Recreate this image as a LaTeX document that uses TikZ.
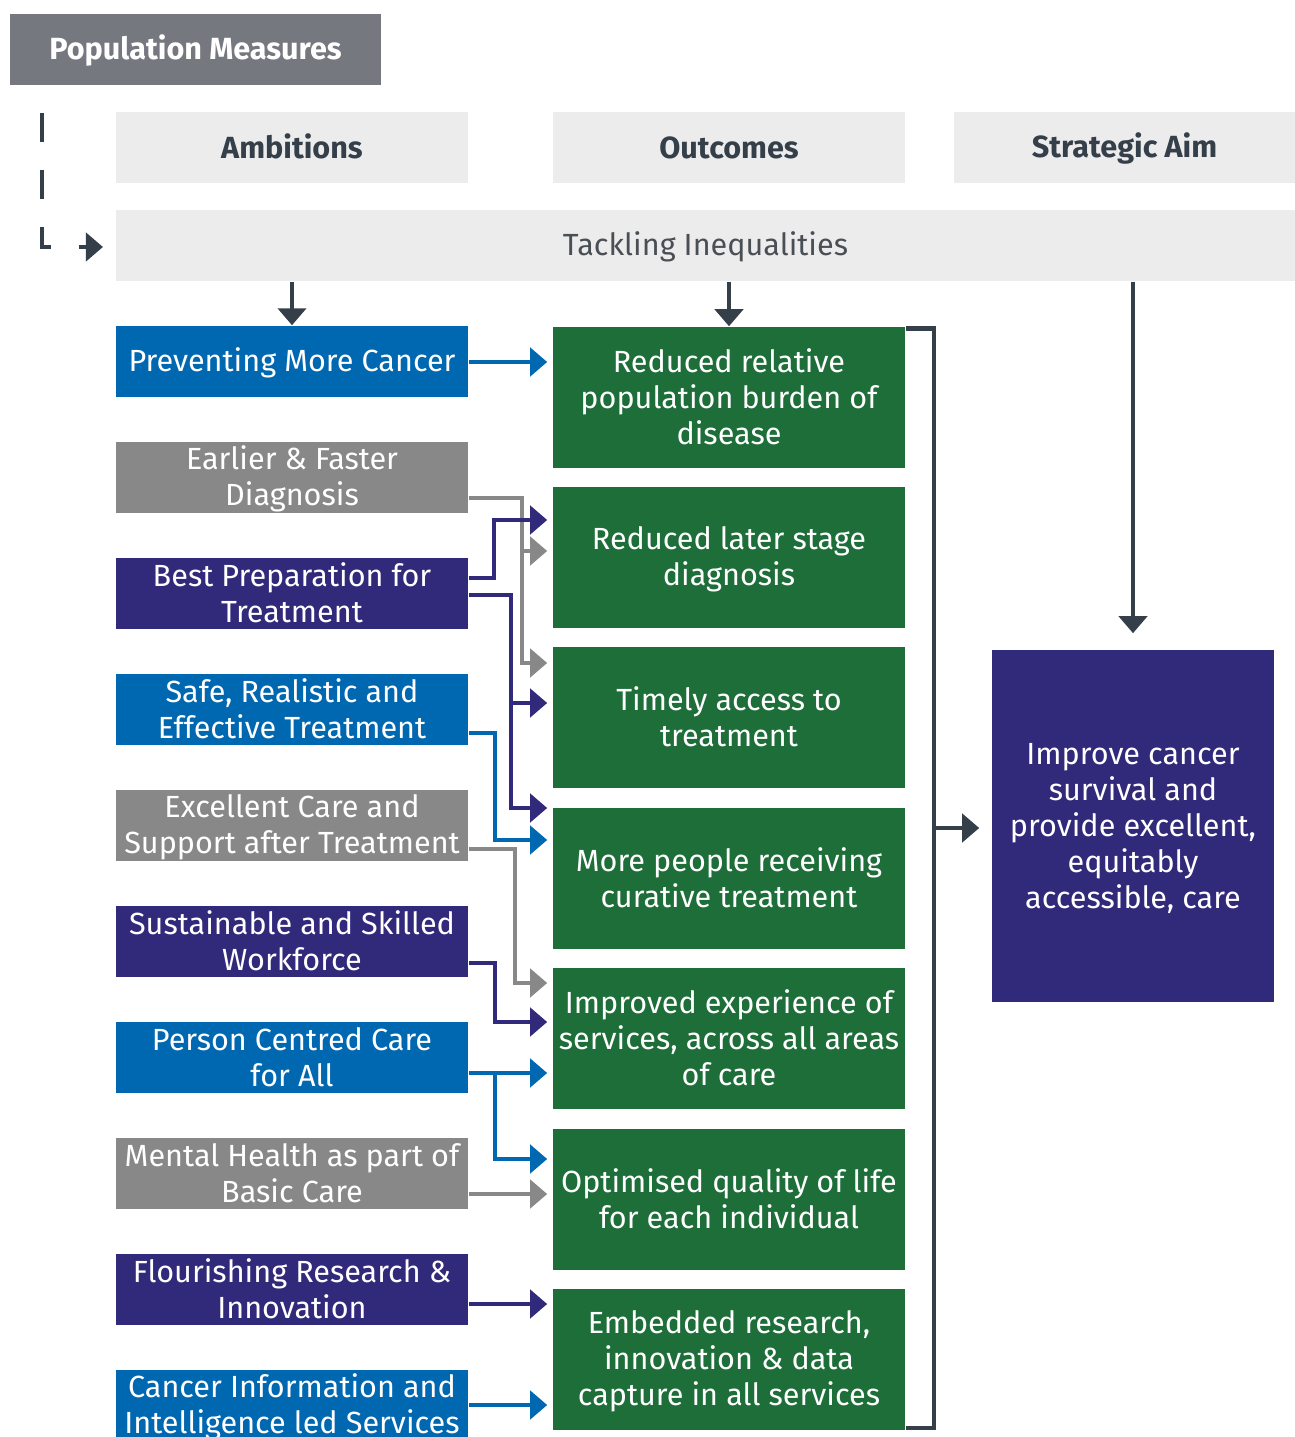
\documentclass[tikz,border=0pt]{standalone}
\usepackage{fontspec}
\setmainfont{Fira Sans}
\usetikzlibrary{arrows.meta,calc}
\definecolor{colBlue}{RGB}{0,103,177}
\definecolor{colPurple}{RGB}{49,41,122}
\definecolor{colGrey}{RGB}{136,136,136}
\definecolor{colGreen}{RGB}{30,110,58}
\definecolor{colHead}{RGB}{236,236,236}
\definecolor{colPop}{RGB}{118,120,127}
\definecolor{colDark}{RGB}{53,63,74}
\definecolor{colText}{RGB}{74,79,85}
% fixed first line height and last line depth, so text sits centred
\newcommand{\st}{\rule{0pt}{7.8pt}}
\tikzstyle{box}=[rectangle, inner sep=0pt, align=center, font=\fontsize{8.7}{10.24}\selectfont,
	execute at end node={\rule[-1.8pt]{0pt}{1.8pt}}]
\tikzstyle{amb}=[box, text=white, minimum width=3.52cm, minimum height=0.71cm]
\tikzstyle{ambB}=[amb, fill=colBlue]
\tikzstyle{ambP}=[amb, fill=colPurple]
\tikzstyle{ambG}=[amb, fill=colGrey]
\tikzstyle{outc}=[box, text=white, fill=colGreen, minimum width=3.52cm, minimum height=1.41cm]
\tikzstyle{head}=[box, fill=colHead, text=colDark, minimum height=0.71cm, font=\fontsize{8.7}{10.24}\selectfont\bfseries]
\tikzstyle{link}=[line width=0.045cm, -{Triangle[length=0.17cm,width=0.28cm]}]
\tikzstyle{blink}=[link,colBlue]
\tikzstyle{plink}=[link,colPurple]
\tikzstyle{glink}=[link,colGrey]
\tikzstyle{dlink}=[link,colDark]
\tikzstyle{dline}=[line width=0.045cm,colDark]

\begin{document}
\begin{tikzpicture}[x=0.01cm,y=-0.01cm]
			\useasboundingbox (0,0) rectangle (1295,1437);

			%%% Headers
			\node[head, fill=colPop, text=white, minimum width=3.71cm] (pop) at (195.5, 49.5) {\st Population Measures};
			\node[head, minimum width=3.52cm] (hamb) at (292.0, 147.5) {\st Ambitions};
			\node[head, minimum width=3.52cm] (hout) at (729.0, 147.5) {\st Outcomes};
			\node[head, minimum width=3.41cm] (haim) at (1124.5, 147.5) {\st Strategic Aim};
			\node[head, minimum width=11.79cm, font=\fontsize{8.7}{10.24}\selectfont, text=colText] (tack) at (705.5, 245.5) {\st Tackling Inequalities};

			%%% Ambitions
			\node[ambB] (amb1)  at (292,  361.5) {\st Preventing More Cancer};
			\node[ambG] (amb2)  at (292,  477.5) {\st Earlier \& Faster\\Diagnosis};
			\node[ambP] (amb3)  at (292,  593.5) {\st Best Preparation for\\Treatment};
			\node[ambB] (amb4)  at (292,  709.5) {\st Safe, Realistic and\\Effective Treatment};
			\node[ambG] (amb5)  at (292,  825.5) {\st Excellent Care and\\Support after Treatment};
			\node[ambP] (amb6)  at (292,  941.5) {\st Sustainable and Skilled\\Workforce};
			\node[ambB] (amb7)  at (292, 1057.5) {\st Person Centred Care\\for All};
			\node[ambG] (amb8)  at (292, 1173.5) {\st Mental Health as part of\\Basic Care};
			\node[ambP] (amb9)  at (292, 1289.5) {\st Flourishing Research \&\\Innovation};
			\node[ambB] (amb10) at (292, 1405.5) {\st Cancer Information and\\Intelligence led Services};

			%%% Outcomes
			\node[outc] (out1) at (729,  397.5) {\st Reduced relative\\population burden of\\disease};
			\node[outc] (out2) at (729,  557.5) {\st Reduced later stage\\diagnosis};
			\node[outc] (out3) at (729,  717.5) {\st Timely access to\\treatment};
			\node[outc] (out4) at (729,  878.5) {\st More people receiving\\curative treatment};
			\node[outc] (out5) at (729, 1038.5) {\st Improved experience of\\services, across all areas\\of care};
			\node[outc] (out6) at (729, 1199.5) {\st Optimised quality of life\\for each individual};
			\node[outc] (out7) at (729, 1359.5) {\st Embedded research,\\innovation \& data\\capture in all services};

			%%% Aim
			\node[box, fill=colPurple, text=white, minimum width=2.82cm, minimum height=3.52cm] (aim) at (1133, 826) {\st Improve cancer\\survival and\\provide excellent,\\equitably\\accessible, care};

			%%% Top
			\draw[dline, dash pattern=on 0.29cm off 0.28cm, -{Triangle[length=0.17cm,width=0.28cm]}]
				($(pop.south west)+(33,27)$) |- ($(tack.west)+(-12,1.5)$);
			\draw[dlink] (amb1.north |- tack.south) -- (amb1.north);
			\draw[dlink] (out1.north |- tack.south) -- (out1.north);
			\draw[dlink] (aim.north |- tack.south) -- ($(aim.north)+(0,-16)$);

			%%% Ambitions to outcomes
			\draw[blink] ($(amb1.east)+(0,0.5)$) -- ($(out1.west)+(-5,-35.5)$);
			% grey ones first, purple runs over them
			\draw[glink] ($(amb2.east)+(0,20.5)$) -| ($(out3.west)+(-30,-54.5)$) -- ($(out3.west)+(-5,-54.5)$);
			\draw[glink] ($(out2.west)+(-30,-6.5)$) -- ($(out2.west)+(-5,-6.5)$);
			\draw[plink] ($(amb3.east)+(0,-15.5)$) -| ($(out2.west)+(-58,-37.5)$) -- ($(out2.west)+(-5,-37.5)$);
			\draw[plink] ($(amb3.east)+(0,1.5)$) -| ($(out4.west)+(-41,-70.5)$) -- ($(out4.west)+(-5,-70.5)$);
			\draw[plink] ($(out3.west)+(-41,-14.5)$) -- ($(out3.west)+(-5,-14.5)$);
			\draw[blink] ($(amb4.east)+(0,23.5)$) -| ($(out4.west)+(-57,-38.5)$) -- ($(out4.west)+(-5,-38.5)$);
			\draw[glink] ($(amb5.east)+(0,23.5)$) -| ($(out5.west)+(-37,-55.5)$) -- ($(out5.west)+(-5,-55.5)$);
			\draw[plink] ($(amb6.east)+(0,21.5)$) -| ($(out5.west)+(-57,-16.5)$) -- ($(out5.west)+(-5,-16.5)$);
			\draw[blink] ($(amb7.east)+(0,15.5)$) -- ($(out5.west)+(-5,34.5)$);
			\draw[blink] ($(out5.west)+(-57,34.5)$) |- ($(out6.west)+(-5,-40.5)$);
			\draw[glink] ($(amb8.east)+(0,20.5)$) -- ($(out6.west)+(-5,-5.5)$);
			\draw[plink] ($(amb9.east)+(0,14.5)$) -- ($(out7.west)+(-5,-55.5)$);
			\draw[blink] ($(amb10.east)+(0,-0.5)$) -- ($(out7.west)+(-5,45.5)$);

			%%% Outcomes to aim
			\draw[dline] ($(out1.north east)+(0,2)$) -| ($(out7.south east)+(28,-3)$) -- ($(out7.south east)+(0,-3)$);
			\draw[dlink] ($(aim.west)+(-59,2)$) -- ($(aim.west)+(-12,2)$);
		\end{tikzpicture}
\end{document}
